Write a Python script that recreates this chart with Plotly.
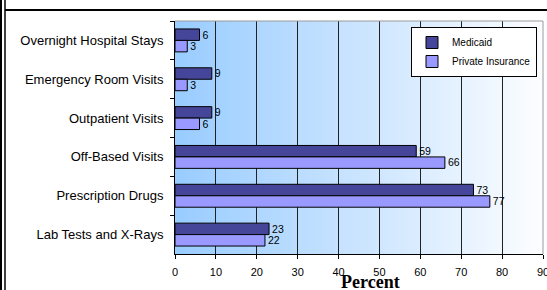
import plotly.graph_objects as go

categories = ["Overnight Hospital Stays", "Emergency Room Visits", "Outpatient Visits",
              "Off-Based Visits", "Prescription Drugs", "Lab Tests and X-Rays"]
medicaid = [6, 9, 9, 59, 73, 23]
private = [3, 3, 6, 66, 77, 22]
x_ticks = [0, 10, 20, 30, 40, 50, 60, 70, 80, 90]

W, H = 547, 290
L, R, T, B = 175, 4, 21, 36
PW, PH = W - L - R, H - T - B

def px(x):
    return (x - L) / PW

def py(y):
    return (H - B - y) / PH

fig = go.Figure()
fig.add_trace(go.Bar(
    y=categories, x=medicaid, name="Medicaid", orientation="h",
    marker=dict(color="#45459A", line=dict(color="#000000", width=1)),
    text=medicaid, textposition="outside", cliponaxis=False,
    textfont=dict(size=11, color="#000000", family="Liberation Sans, Arial")))
fig.add_trace(go.Bar(
    y=categories, x=private, name="Private Insurance", orientation="h",
    marker=dict(color="#9999FF", line=dict(color="#000000", width=1)),
    text=private, textposition="outside", cliponaxis=False,
    textfont=dict(size=11, color="#000000", family="Liberation Sans, Arial")))

shapes = []
# horizontal gradient background (light blue -> white)
n = 92
x0, x1 = x_ticks[0], x_ticks[-1]
for i in range(n):
    t = i / (n - 1)
    r = round(153 + (252 - 153) * t)
    g = round(204 + (253 - 204) * t)
    col = f"rgb({r},{g},255)"
    shapes.append(dict(type="rect", xref="x", yref="paper",
                       x0=x0 + (x1 - x0) * i / n, x1=x0 + (x1 - x0) * (i + 1) / n + 0.02,
                       y0=0, y1=1, fillcolor=col, line=dict(width=0), layer="below"))
# plot-area border top/right (gray)
shapes.append(dict(type="line", xref="paper", yref="paper", x0=0, x1=1, y0=1, y1=1,
                   line=dict(color="#9a9a9a", width=1)))
shapes.append(dict(type="line", xref="paper", yref="paper", x0=1, x1=1, y0=0, y1=1,
                   line=dict(color="#9a9a9a", width=1)))
# outer frame lines
shapes.append(dict(type="line", xref="paper", yref="paper", x0=px(1), x1=px(1), y0=py(-2), y1=py(292),
                   line=dict(color="#000000", width=2)))
shapes.append(dict(type="line", xref="paper", yref="paper", x0=px(5), x1=px(5), y0=py(-2), y1=py(292),
                   line=dict(color="#000000", width=1.5)))
shapes.append(dict(type="line", xref="paper", yref="paper", x0=px(5), x1=px(549), y0=py(10), y1=py(10),
                   line=dict(color="#000000", width=2)))

fig.update_layout(
    width=W, height=H, autosize=False,
    margin=dict(l=L, r=R, t=T, b=B, pad=0),
    paper_bgcolor="#ffffff", plot_bgcolor="rgba(0,0,0,0)",
    barmode="group", bargap=0.41, bargroupgap=0,
    font=dict(family="Liberation Sans, Arial", color="#000000"),
    shapes=shapes,
    showlegend=True,
    legend=dict(x=px(537), y=py(27), xanchor="right", yanchor="top",
                bgcolor="#ffffff", bordercolor="#000000", borderwidth=1,
                font=dict(size=10, color="#000000"), traceorder="normal",
                itemwidth=30),
    annotations=[dict(text="<b>Percent</b>", xref="paper", yref="paper",
                      x=px(370), y=py(282), xanchor="center", yanchor="middle",
                      showarrow=False,
                      font=dict(family="Liberation Serif, Times New Roman", size=18, color="#000000"))],
)
fig.update_xaxes(range=[x_ticks[0], x_ticks[-1]], tickvals=x_ticks, ticktext=[str(v) for v in x_ticks],
                 ticks="outside", ticklen=4, tickcolor="#000000",
                 showgrid=True, gridcolor="#222222", gridwidth=1,
                 showline=True, linecolor="#000000", linewidth=1,
                 zeroline=False, tickfont=dict(size=11, color="#000000"),
                 ticklabelstandoff=4, ticklabeloverflow="allow", automargin=False)
fig.update_yaxes(categoryorder="array", categoryarray=categories, autorange="reversed",
                 tickson="boundaries", ticks="outside", ticklen=4, tickcolor="#000000",
                 showgrid=False, showline=True, linecolor="#000000", linewidth=1,
                 tickfont=dict(size=13, color="#000000"), ticklabelstandoff=8, automargin=False)

fig.write_html("out.html", config={"responsive": False, "displayModeBar": False},
               post_script="document.body.style.margin='0px';document.body.style.overflow='hidden';")
